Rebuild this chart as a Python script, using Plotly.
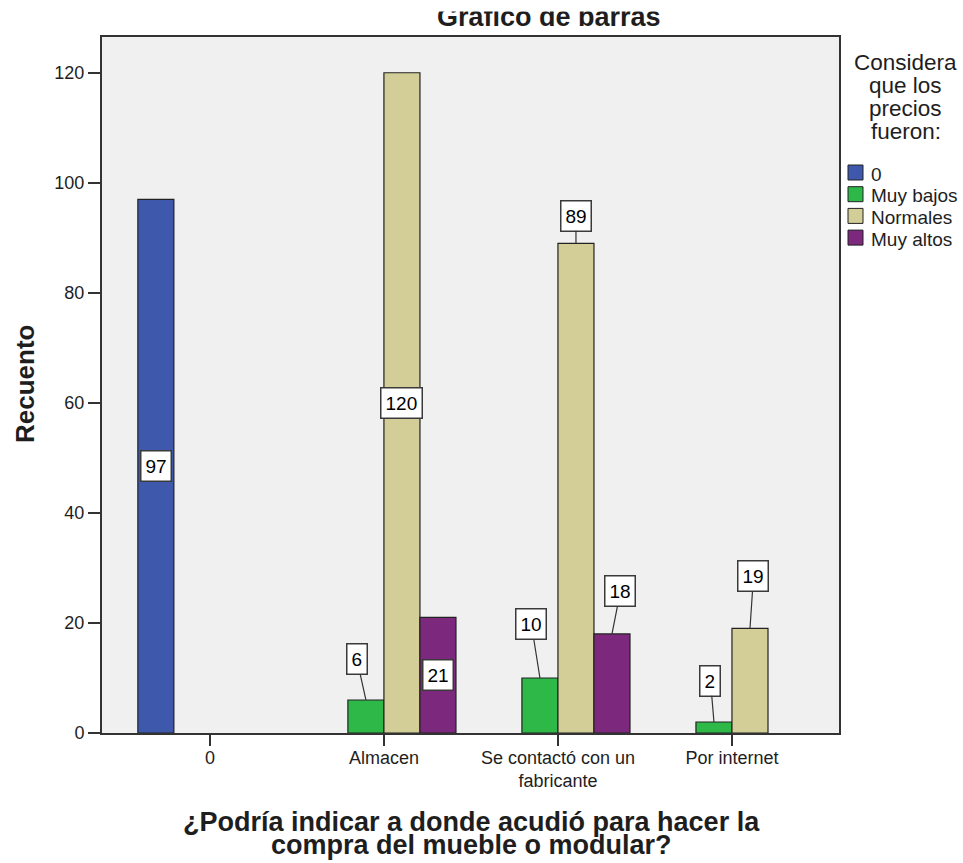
import plotly.graph_objects as go

# Datos: recuento por lugar de compra y percepción de precios
categorias = ["0", "Almacen", "Se contactó con un fabricante", "Por internet"]
etiquetas_eje = ["0", "Almacen", "Se contactó con un<br>fabricante", "Por internet"]
series = ["0", "Muy bajos", "Normales", "Muy altos"]
valores_0 = [97, None, None, None]
valores_muy_bajos = [None, 6, 10, 2]
valores_normales = [None, 120, 89, 19]
valores_muy_altos = [None, 21, 18, None]
ticks_y = [0, 20, 40, 60, 80, 100, 120]

valores = [valores_0, valores_muy_bajos, valores_normales, valores_muy_altos]
colores = ["#3E58AC", "#2EB848", "#D3CE97", "#7C287D"]

# Etiquetas de valor: None = dentro de la barra; (dx, dy) = desplazamiento en px con línea guía
posicion_etiqueta = {
    (0, 0): None,
    (1, 1): (-9, -40.5), (1, 2): (-8.5, -53.5), (1, 3): (-3.5, -41.5),
    (2, 1): None, (2, 2): (0, -27.7), (2, 3): (3.5, -52),
    (3, 1): None, (3, 2): (8.5, -43),
}

FUENTE = "Liberation Sans, Arial, sans-serif"
TEXTO = "#1e1e1e"
ANCHO, ALTO = 963, 863
L, R, T, B = 102, 124, 37, 130
W, H = ANCHO - L - R, ALTO - T - B
BARGAP = 0.172


def px(x):
    return (x - L) / W


def py(y):
    return 1 - (y - T) / H


def texto_papel(texto, x, y, size, bold=False, xanchor="center", **extra):
    fuente = dict(family=FUENTE, size=size, color=TEXTO)
    if bold:
        fuente["weight"] = "bold"
    return dict(text=texto, x=px(x), y=py(y), xref="paper", yref="paper",
                xanchor=xanchor, yanchor="middle", showarrow=False, font=fuente, **extra)


fig = go.Figure()
for nombre, vals, color in zip(series, valores, colores):
    fig.add_trace(go.Bar(
        name=nombre, x=categorias, y=vals,
        marker=dict(color=color, line=dict(color="#222222", width=1.2)),
        showlegend=False, hoverinfo="skip",
    ))

anotaciones = []
ancho_barra = (1 - BARGAP) / len(series)
for i, vals in enumerate(valores):
    for j, v in enumerate(vals):
        if v is None:
            continue
        xc = j + (i - (len(series) - 1) / 2) * ancho_barra
        caja = dict(text=str(v), font=dict(family=FUENTE, size=19, color="#000"),
                    bgcolor="white", bordercolor="#3a3a3a", borderwidth=1.5,
                    borderpad=4, xref="x", yref="y", xanchor="center", yanchor="middle")
        desp = posicion_etiqueta.get((i, j))
        if desp is None:
            anotaciones.append(dict(caja, x=xc, y=v / 2, showarrow=False))
        else:
            anotaciones.append(dict(caja, x=xc, y=v, showarrow=True, arrowhead=0,
                                    arrowwidth=1.2, arrowcolor="#333", standoff=0,
                                    ax=desp[0], ay=desp[1]))

# Título (recortado en su parte superior)
anotaciones.append(texto_papel("Gráfico de barras", 549, 16.6, 27, bold=True))
anotaciones.append(dict(text=" ", x=px(549), y=py(0), xref="paper", yref="paper",
                        xanchor="center", yanchor="top", width=420, height=10,
                        bgcolor="white", borderpad=0, showarrow=False))

# Títulos de ejes
anotaciones.append(texto_papel("Recuento", 25, 384, 26, bold=True, textangle=-90))
anotaciones.append(texto_papel("¿Podría indicar a donde acudió para hacer la", 471, 822, 27, bold=True))
anotaciones.append(texto_papel("compra del mueble o modular?", 471, 845, 27, bold=True))

# Leyenda
for k, linea in enumerate(["Considera", "que los", "precios", "fueron:"]):
    anotaciones.append(texto_papel(linea, 906, 63 + 22.8 * k, 22.5))
formas = []
for k, (nombre, color) in enumerate(zip(series, colores)):
    yc = 172.5 + 21.7 * k
    formas.append(dict(type="rect", xref="paper", yref="paper",
                       x0=px(848), x1=px(863), y0=py(yc + 7.5), y1=py(yc - 7.5),
                       fillcolor=color, line=dict(color="#222222", width=1)))
    anotaciones.append(texto_papel(nombre, 869, yc + 1.5, 19, xanchor="left"))

fig.update_layout(
    width=ANCHO, height=ALTO,
    margin=dict(l=L, r=R, t=T, b=B, pad=0),
    paper_bgcolor="white", plot_bgcolor="#F0F0F0",
    barmode="group", bargap=BARGAP, bargroupgap=0,
    font=dict(family=FUENTE, color=TEXTO),
    annotations=anotaciones, shapes=formas,
    showlegend=False,
)
fig.update_xaxes(
    type="category", categoryorder="array", categoryarray=categorias,
    tickvals=categorias, ticktext=etiquetas_eje,
    range=[-0.62, 3.615], showline=True, linecolor="#333", linewidth=2, mirror=True,
    ticks="outside", ticklen=11, tickwidth=1.5, tickcolor="#333",
    ticklabelstandoff=-4,
    tickfont=dict(family=FUENTE, size=18, color=TEXTO),
    showgrid=False, zeroline=False,
)
fig.update_yaxes(
    range=[0, 126.5], tickvals=ticks_y, showline=True, linecolor="#333", linewidth=2, mirror=True,
    ticks="outside", ticklen=12, tickwidth=1.5, tickcolor="#333",
    tickfont=dict(family=FUENTE, size=18, color=TEXTO),
    showgrid=False, zeroline=False,
)

fig.write_html("out.html")
